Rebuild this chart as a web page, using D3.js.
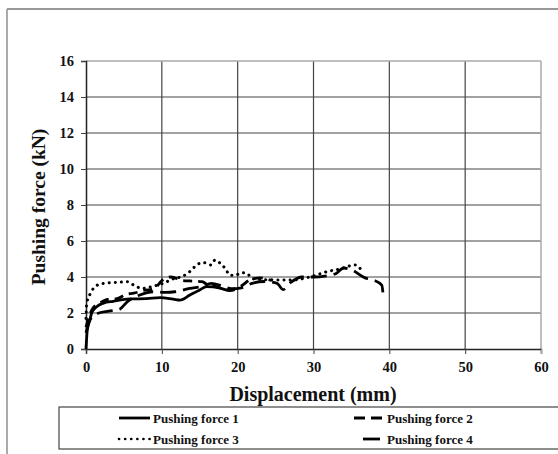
<!DOCTYPE html>
<html>
<head>
<meta charset="utf-8">
<script src="https://cdn.jsdelivr.net/npm/d3@7"></script>
<style>
  body { margin: 0; background: #fff; }
  svg { display: block; font-family: "Liberation Serif", "Times New Roman", serif; font-weight: bold; }
</style>
</head>
<body>
<script>
// Pushing force vs displacement, four runs
const xTicks = [0, 10, 20, 30, 40, 50, 60];
const yTicks = [0, 2, 4, 6, 8, 10, 12, 14, 16];

// [displacement mm, force kN]
const force1 = [
  [0, 0], [0.17, 1.05], [0.5, 1.6], [0.75, 2.0], [1.4, 2.35], [2.3, 2.55], [3.6, 2.65],
  [5.8, 2.78], [8, 2.8], [9.8, 2.85], [11.5, 2.77], [12.4, 2.72], [13.7, 3.0],
  [15, 3.28], [15.9, 3.46], [17.7, 3.38], [19, 3.24], [19.6, 3.3]
];
const force2 = [
  [0, 1.2], [0.8, 2.2], [2, 2.6], [2.8, 2.75], [4.1, 2.8], [5.4, 3.05], [6.3, 3.1],
  [7.6, 3.25], [9, 3.35], [10, 3.8], [11.2, 4.0], [12.8, 3.8], [13.7, 3.78],
  [15.3, 3.74], [16.1, 3.55], [17.2, 3.46], [18.6, 3.28], [20.3, 3.46], [21.6, 3.83],
  [23, 3.95], [24.5, 3.8]
];
const force3 = [
  [0, 1.7], [0.1, 2.55], [0.6, 3.1], [1.5, 3.55], [2.4, 3.65], [4.1, 3.7], [5.45, 3.74],
  [6.3, 3.55], [7.4, 3.37], [9, 3.5], [10.2, 3.65], [11.5, 3.9], [12.8, 4.05],
  [13.7, 4.3], [14.6, 4.67], [15.5, 4.8], [16.5, 4.67], [17, 4.94], [17.7, 4.76],
  [18.35, 4.48], [19, 4.1], [19.7, 4.1], [20.5, 4.24], [21.2, 4.2], [22, 3.9],
  [24, 3.85], [27.2, 3.83], [29.5, 4.0], [31.8, 4.3], [33.5, 4.45], [35.5, 4.67], [36.3, 4.4]
];
const force4 = [
  [0, 0.9], [0.5, 1.6], [1.7, 2.0], [3, 2.1], [4.4, 2.2], [5.5, 2.65], [7.1, 3.0],
  [8.9, 3.18], [10.5, 3.15], [11.7, 3.18], [13.7, 3.37], [15.5, 3.5], [16.5, 3.65],
  [18, 3.5], [19.2, 3.35], [20.5, 3.4], [21.9, 3.65], [23.5, 3.75], [25.2, 3.65],
  [26, 3.3], [27, 3.7], [28.5, 4.0], [30, 4.0], [31.5, 4.05], [33, 4.2], [34, 4.5],
  [35, 4.4], [36.8, 3.95], [37.9, 3.83], [39, 3.55], [39.2, 2.95]
];

const seriesNames = ["Pushing force 1", "Pushing force 2", "Pushing force 3", "Pushing force 4"];
const seriesData = [force1, force2, force3, force4];
const dashes = [null, "9,6", "0.1,6", "16,7"];
const caps = ["butt", "butt", "round", "butt"];
const widths = [2.8, 2.8, 3, 2.8];

const W = 558, H = 454;
const plotL = 86, plotR = 541, plotT = 61, plotB = 349;

const svg = d3.select("body").append("svg").attr("width", W).attr("height", H);

// outer frame (only left + top edges visible)
svg.append("line").attr("x1", 7).attr("x2", 7).attr("y1", 9).attr("y2", H)
  .attr("stroke", "#aaa").attr("stroke-width", 2);
svg.append("line").attr("x1", 7).attr("x2", W).attr("y1", 9).attr("y2", 9)
  .attr("stroke", "#999").attr("stroke-width", 2);

const x = d3.scaleLinear().domain([0, 60]).range([plotL, plotR]);
const y = d3.scaleLinear().domain([0, 16]).range([plotB, plotT]);

// grid
svg.append("g").selectAll("line").data(yTicks.slice(1, -1)).join("line")
  .attr("x1", plotL).attr("x2", plotR)
  .attr("y1", d => y(d)).attr("y2", d => y(d))
  .attr("stroke", "#444").attr("stroke-width", 1.2);
svg.append("g").selectAll("line").data(xTicks.slice(1, -1)).join("line")
  .attr("y1", plotT).attr("y2", plotB)
  .attr("x1", d => x(d)).attr("x2", d => x(d))
  .attr("stroke", "#444").attr("stroke-width", 1.2);

// top and right edges of the plot box (lighter)
svg.append("line").attr("x1", plotL).attr("x2", plotR).attr("y1", plotT).attr("y2", plotT)
  .attr("stroke", "#aaa").attr("stroke-width", 1.5);
svg.append("line").attr("x1", plotR).attr("x2", plotR).attr("y1", plotT).attr("y2", plotB)
  .attr("stroke", "#aaa").attr("stroke-width", 1.5);

// axes
const yAxis = svg.append("g").attr("transform", `translate(${plotL},0)`)
  .call(d3.axisLeft(y).tickValues(yTicks).tickSize(5).tickPadding(7));
const xAxis = svg.append("g").attr("transform", `translate(0,${plotB})`)
  .call(d3.axisBottom(x).tickValues(xTicks).tickSize(5).tickPadding(8));
[xAxis, yAxis].forEach(a => {
  a.attr("font-family", null).attr("font-size", null);
  a.select(".domain").attr("stroke", "#222").attr("stroke-width", 1.5);
  a.selectAll(".tick line").attr("stroke", "#444");
  a.selectAll("text")
    .style("font-family", "'Liberation Serif', serif")
    .style("font-weight", "bold").style("font-size", "14.5px").attr("fill", "#111");
});
xAxis.selectAll(".tick line").filter(d => d === 60).attr("stroke", "#aaa");

// curves
const line = d3.line().x(d => x(d[0])).y(d => y(d[1])).curve(d3.curveMonotoneX);
seriesData.forEach((data, i) => {
  svg.append("path")
    .datum(data)
    .attr("d", line)
    .attr("fill", "none")
    .attr("stroke", "#000")
    .attr("stroke-width", widths[i])
    .attr("stroke-linecap", caps[i])
    .attr("stroke-dasharray", dashes[i]);
});

// axis titles
svg.append("text")
  .attr("x", 313).attr("y", 401)
  .attr("text-anchor", "middle")
  .style("font-size", "20px")
  .attr("fill", "#111")
  .text("Displacement  (mm)");
svg.append("text")
  .attr("transform", "translate(45,207) rotate(-90)")
  .attr("text-anchor", "middle")
  .style("font-size", "19.5px")
  .attr("fill", "#111")
  .text("Pushing  force (kN)");

// legend
svg.append("rect")
  .attr("x", 59).attr("y", 407).attr("width", W - 57).attr("height", 42)
  .attr("fill", "#fff").attr("stroke", "#444").attr("stroke-width", 1.2);

const legendPos = [
  { lx: 119, tx: 153, ly: 418 },
  { lx: 354, tx: 387, ly: 418 },
  { lx: 119, tx: 153, ly: 439 },
  { lx: 354, tx: 387, ly: 439 }
];
const legendDash = [null, "11,6", "0.1,6", null];
seriesNames.forEach((name, i) => {
  const p = legendPos[i];
  const x1 = i === 3 ? p.lx + 9 : p.lx;
  const x2 = i === 3 ? p.lx + 26 : (i === 1 ? p.lx + 28 : p.lx + 31);
  svg.append("line")
    .attr("x1", x1).attr("x2", x2).attr("y1", p.ly).attr("y2", p.ly)
    .attr("stroke", "#000").attr("stroke-width", i === 2 ? 2.6 : 2.8)
    .attr("stroke-linecap", caps[i])
    .attr("stroke-dasharray", legendDash[i]);
  svg.append("text")
    .attr("x", p.tx).attr("y", p.ly + 4.5)
    .style("font-size", "13px")
    .attr("fill", "#111")
    .text(name);
});
</script>
</body>
</html>
